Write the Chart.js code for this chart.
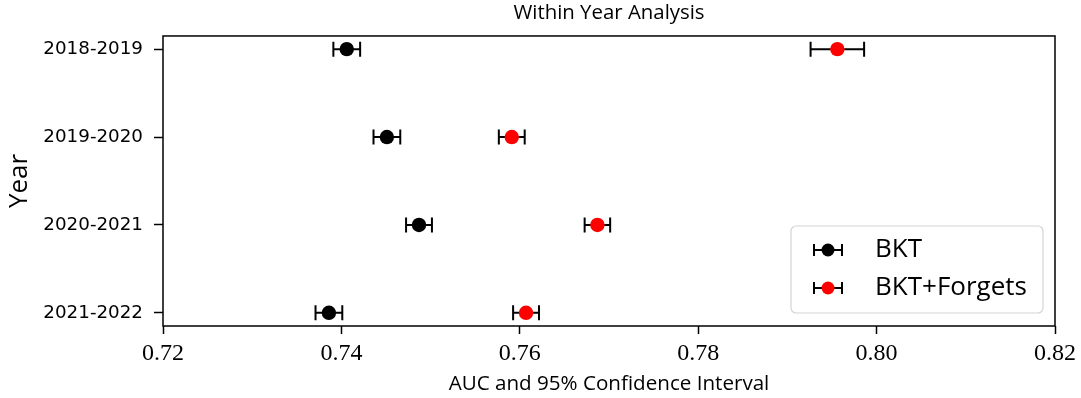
<!DOCTYPE html>
<html>
<head>
<meta charset="utf-8">
<script src="https://cdn.jsdelivr.net/npm/chart.js@4.4.0/dist/chart.umd.min.js"></script>
<style>
  html, body { margin: 0; padding: 0; background: #fff; }
  #wrap { width: 1081px; height: 398px; }
</style>
</head>
<body>
<div id="wrap"><canvas id="c" width="1081" height="398"></canvas></div>
<script>
// ---- Data ----
const years = ["2018-2019", "2019-2020", "2020-2021", "2021-2022"];
const seriesNames = ["BKT", "BKT+Forgets"];
const bktAuc = [0.7406, 0.7451, 0.7487, 0.7386];
const bktCi = [0.0015, 0.0015, 0.00145, 0.0015];
const forgetsAuc = [0.7956, 0.7591, 0.7687, 0.7607];
const forgetsCi = [0.0030, 0.00145, 0.00143, 0.00145];
const xTicks = [0.72, 0.74, 0.76, 0.78, 0.80, 0.82];
const xTickLabels = ["0.72", "0.74", "0.76", "0.78", "0.80", "0.82"];

const SANS = "'Open Sans', 'DejaVu Sans', sans-serif";

function pts(vals, ci) {
  return vals.map((v, i) => ({ x: v, y: i, err: ci[i] }));
}

const errorBars = {
  id: 'errorBars',
  beforeDatasetsDraw(chart) {
    const ctx = chart.ctx;
    const xs = chart.scales.x, ys = chart.scales.y;
    ctx.save();
    ctx.strokeStyle = '#000';
    ctx.lineWidth = 2;
    chart.data.datasets.forEach(ds => {
      ds.data.forEach(p => {
        const x0 = xs.getPixelForValue(p.x - p.err);
        const x1 = xs.getPixelForValue(p.x + p.err);
        const y = ys.getPixelForValue(p.y);
        const cap = 7.5;
        ctx.beginPath();
        ctx.moveTo(x0, y); ctx.lineTo(x1, y);
        ctx.moveTo(x0, y - cap); ctx.lineTo(x0, y + cap);
        ctx.moveTo(x1, y - cap); ctx.lineTo(x1, y + cap);
        ctx.stroke();
      });
    });
    ctx.restore();
  }
};

const frameAndLegend = {
  id: 'frameAndLegend',
  afterDraw(chart) {
    const ctx = chart.ctx;
    const a = chart.chartArea;
    ctx.save();
    ctx.strokeStyle = '#000';
    ctx.lineWidth = 1.5;
    ctx.strokeRect(a.left, a.top, a.right - a.left, a.bottom - a.top);

    // legend box
    const bx = 791, by = 226, bw = 252, bh = 87, r = 5;
    ctx.beginPath();
    ctx.moveTo(bx + r, by);
    ctx.arcTo(bx + bw, by, bx + bw, by + bh, r);
    ctx.arcTo(bx + bw, by + bh, bx, by + bh, r);
    ctx.arcTo(bx, by + bh, bx, by, r);
    ctx.arcTo(bx, by, bx + bw, by, r);
    ctx.closePath();
    ctx.fillStyle = 'rgba(255,255,255,0.8)';
    ctx.fill();
    ctx.strokeStyle = '#d4d4d4';
    ctx.lineWidth = 1.2;
    ctx.stroke();

    const rows = [250, 288];
    chart.data.datasets.forEach((ds, i) => {
      const cx = 828, cy = rows[i];
      ctx.strokeStyle = '#000';
      ctx.lineWidth = 2;
      ctx.beginPath();
      ctx.moveTo(cx - 14, cy); ctx.lineTo(cx + 14, cy);
      ctx.moveTo(cx - 14, cy - 6); ctx.lineTo(cx - 14, cy + 6);
      ctx.moveTo(cx + 14, cy - 6); ctx.lineTo(cx + 14, cy + 6);
      ctx.stroke();
      ctx.fillStyle = ds.backgroundColor;
      ctx.beginPath();
      ctx.arc(cx, cy, 6.5, 0, Math.PI * 2);
      ctx.fill();
      ctx.fillStyle = '#000';
      ctx.font = "26px " + SANS;
      ctx.textAlign = 'left';
      ctx.textBaseline = 'middle';
      ctx.fillText(ds.label, 875, cy);
    });
    ctx.restore();
  }
};

new Chart(document.getElementById('c'), {
  type: 'scatter',
  data: {
    datasets: [
      { label: seriesNames[0], data: pts(bktAuc, bktCi), backgroundColor: '#000000', borderWidth: 0, pointRadius: 7.2, pointHoverRadius: 7.2 },
      { label: seriesNames[1], data: pts(forgetsAuc, forgetsCi), backgroundColor: '#ff0000', borderWidth: 0, pointRadius: 7.2, pointHoverRadius: 7.2 }
    ]
  },
  options: {
    responsive: false,
    animation: false,
    devicePixelRatio: 1,
    layout: { padding: { left: 0, right: 24, top: 0, bottom: 0 } },
    plugins: {
      legend: { display: false },
      tooltip: { enabled: false },
      title: {
        display: true,
        fullSize: false,
        text: 'Within Year Analysis',
        color: '#000',
        font: { family: SANS, size: 20.4, weight: 'normal', lineHeight: 1.2 },
        padding: { top: 1, bottom: 10.5 }
      }
    },
    scales: {
      x: {
        type: 'linear',
        min: 0.72, max: 0.82,
        afterBuildTicks(s) { s.ticks = xTicks.map(v => ({ value: v })); },
        afterFit(s) { s.height = 72; },
        ticks: {
          color: '#000',
          font: { family: "'Liberation Serif', serif", size: 24 },
          padding: 5,
          maxRotation: 0,
          autoSkip: false,
          callback(v, i) { return xTickLabels[i]; }
        },
        grid: { drawOnChartArea: false, drawTicks: true, tickLength: 8, tickColor: '#000', tickWidth: 1.5 },
        border: { display: false },
        title: {
          display: true,
          text: 'AUC and 95% Confidence Interval',
          color: '#000',
          font: { family: SANS, size: 20.6, lineHeight: 1.2 },
          padding: { top: 0, bottom: 2 }
        }
      },
      y: {
        type: 'linear',
        reverse: true,
        min: -0.15, max: 3.15,
        afterBuildTicks(s) { s.ticks = years.map((_, i) => ({ value: i })); },
        afterFit(s) { s.width = 163; },
        ticks: {
          color: '#000',
          font: { family: "'DejaVu Sans', sans-serif", size: 18.3 },
          padding: 11,
          autoSkip: false,
          callback(v) { return years[v]; }
        },
        grid: { drawOnChartArea: false, drawTicks: true, tickLength: 9, tickColor: '#000', tickWidth: 1.5 },
        border: { display: false },
        title: {
          display: true,
          text: 'Year',
          color: '#000',
          font: { family: SANS, size: 26, lineHeight: 1.2 },
          padding: { top: 4, bottom: 0 }
        }
      }
    }
  },
  plugins: [errorBars, frameAndLegend]
});
</script>
</body>
</html>
